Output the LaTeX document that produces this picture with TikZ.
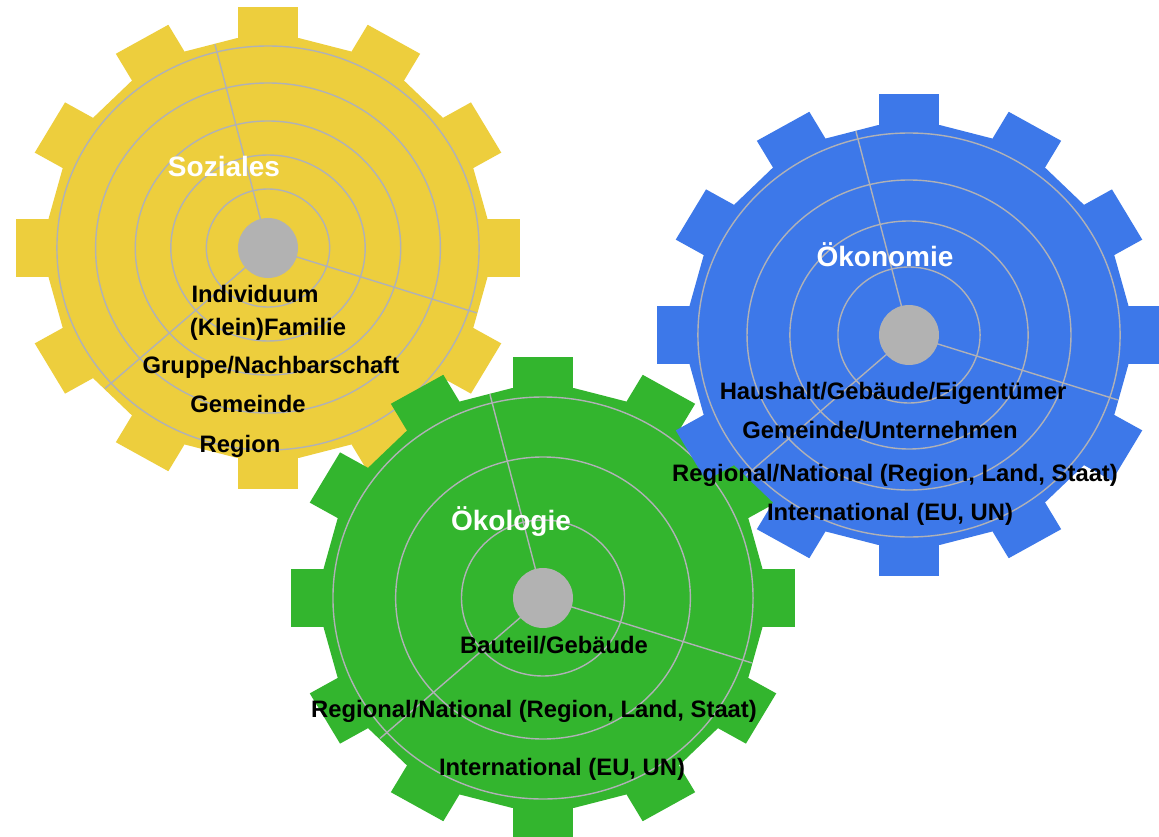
\documentclass[tikz,border=0pt]{standalone}
\usepackage{fontspec}
\setmainfont{Liberation Sans}

\definecolor{sozyellow}{HTML}{EDCE3D}
\definecolor{oekoblue}{HTML}{3D78E9}
\definecolor{oekogreen}{HTML}{33B52E}
\definecolor{hubgray}{HTML}{B2B2B2}
\definecolor{ringgray}{HTML}{B0B1B6}

% gear wheel: name, centre, colour, ring radii
\newcommand{\gearwheel}[4]{%
  \begin{scope}[shift={#2}, xscale=1.045]
    \fill[#3] (-8:212) \foreach \a in {0,30,...,330} { -- (\a-8:212) -- (\a+8:212) } -- cycle;
    \foreach \a in {0,30,...,330}
      \fill[#3, rotate=\a] (195,-29) rectangle (241,29);
    \foreach \r in {#4}
      \draw[ring] (0,0) circle (\r);
    \foreach \a in {-104,18,138}
      \draw[ring] (0,0) -- (\a:210);
  \end{scope}
  \node[hub] (#1-hub) at #2 {};}

\begin{document}
\begin{tikzpicture}[x=1pt, y=-1pt,
    ring/.style={draw=ringgray, line width=1.4pt},
    hub/.style={circle, fill=hubgray, minimum size=60pt, inner sep=0pt},
    dimension/.style={text=white, anchor=base, inner sep=0pt, font=\bfseries\fontsize{28}{32}\selectfont},
    tier/.style={text=black, anchor=base, inner sep=0pt, font=\bfseries\fontsize{23.8}{27}\selectfont}]
  \useasboundingbox[fill=white] (0,0) rectangle (1159,837);

  \gearwheel{soz}{(268,248)}{sozyellow}{59,93,127,165,202}
  \node[dimension] (soz-title) at (224,177) {Soziales};
  \node[tier] (soz-1) at (255,302) {Individuum};
  \node[tier] (soz-2) at (268,335) {(Klein)Familie};
  \node[tier] (soz-3) at (271,373) {Gruppe/Nachbarschaft};
  \node[tier] (soz-4) at (248,412) {Gemeinde};
  \node[tier] (soz-5) at (240,452) {Region};

  \gearwheel{oeko}{(543,598)}{oekogreen}{78,141,201}
  \node[dimension] (oeko-title) at (511,530) {Ökologie};
  \node[tier] (oeko-1) at (554,653) {Bauteil/Gebäude};
  \node[tier] (oeko-2) at (534,717) {Regional/National (Region, Land, Staat)};
  \node[tier] (oeko-3) at (562,775) {International (EU, UN)};

  \gearwheel{oekon}{(909,335)}{oekoblue}{68,114,155,202}
  \node[dimension] (oekon-title) at (885,266) {Ökonomie};
  \node[tier] (oekon-1) at (893,399) {Haushalt/Gebäude/Eigentümer};
  \node[tier] (oekon-2) at (880,438) {Gemeinde/Unternehmen};
  \node[tier] (oekon-3) at (895,481) {Regional/National (Region, Land, Staat)};
  \node[tier] (oekon-4) at (890,520) {International (EU, UN)};
\end{tikzpicture}
\end{document}
